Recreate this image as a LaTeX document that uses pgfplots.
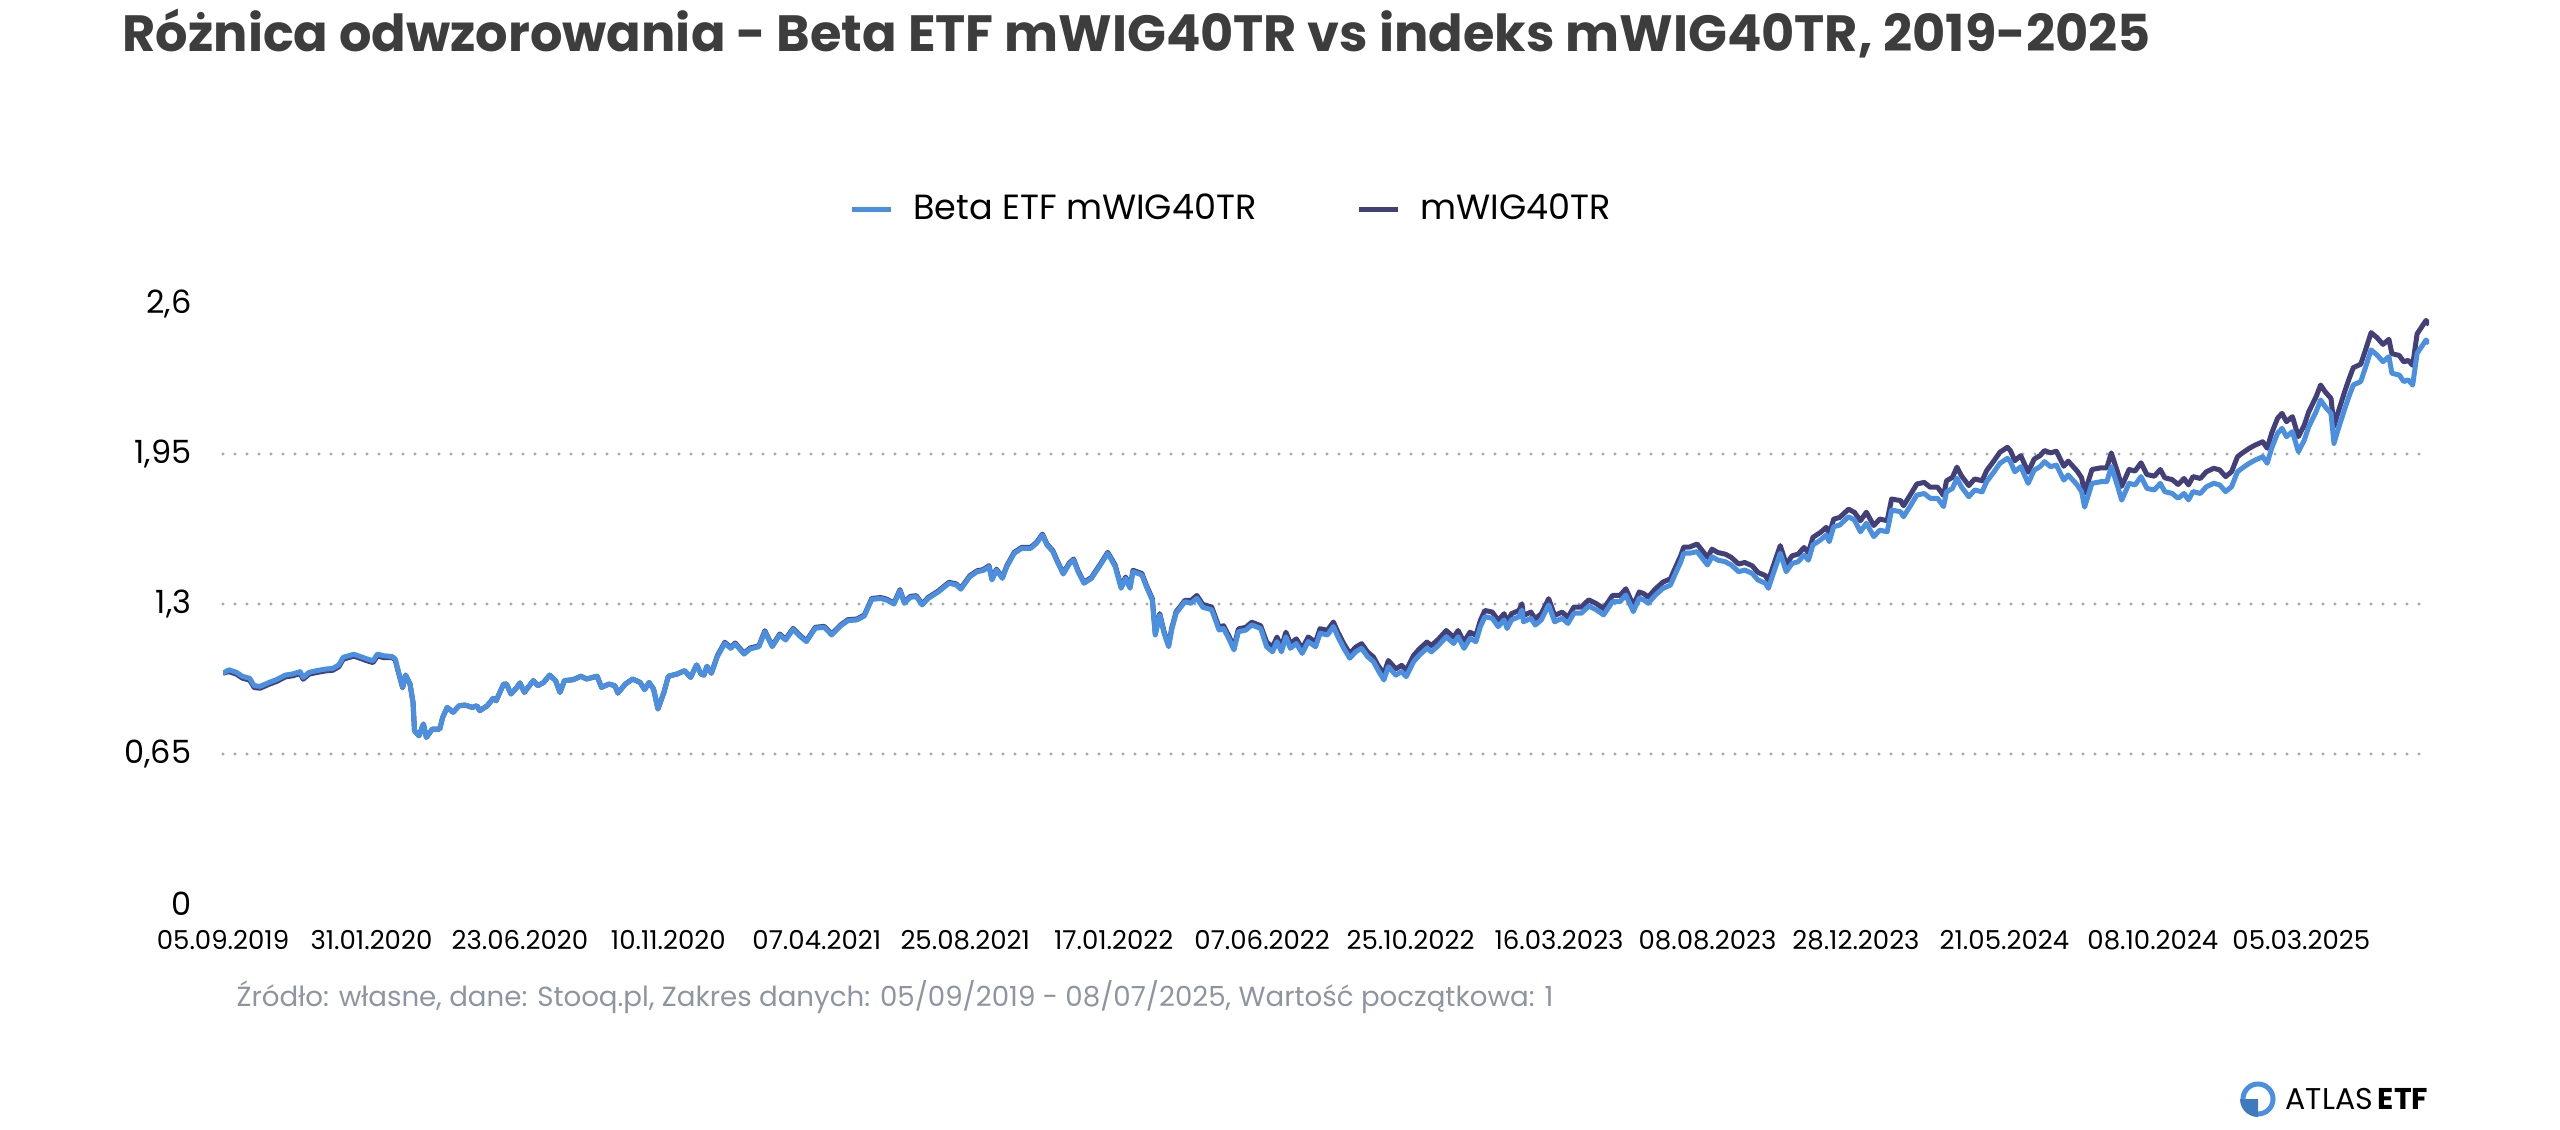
\documentclass[border=0pt]{standalone}
\usepackage{fontspec}
\setmainfont{Poppins}
\usepackage{pgfplots}
\pgfplotsset{compat=1.18}
\usepackage{pgfplotstable}

\definecolor{etfblue}{HTML}{4A8FE0}
\definecolor{wigdark}{HTML}{434078}
\definecolor{titlegray}{HTML}{3D3D3D}
\definecolor{srcgray}{HTML}{8D95A0}
\definecolor{gridgray}{HTML}{A6A6B2}

% d = trading day since 05.09.2019, etf = Beta ETF mWIG40TR, wig = mWIG40TR (start value 1)
\pgfplotstableread{
d etf wig
0 1.000 1.000
4 1.015 1.007
9 1.004 0.996
13 0.987 0.979
18 0.978 0.970
21 0.946 0.938
25 0.943 0.935
31 0.960 0.952
36 0.972 0.964
42 0.992 0.984
47 0.997 0.989
52 1.007 0.999
54 0.982 0.974
58 1.004 0.996
63 1.011 1.003
69 1.018 1.010
74 1.021 1.013
78 1.036 1.028
81 1.069 1.061
88 1.082 1.074
91 1.076 1.068
97 1.062 1.054
101 1.054 1.046
104 1.083 1.075
108 1.076 1.068
114 1.072 1.067
116 1.062 1.058
118 1.011 1.008
121 0.939 0.937
123 0.992 0.992
126 0.953 0.953
128 0.874 0.874
129 0.751 0.751
132 0.729 0.729
135 0.780 0.780
137 0.722 0.722
141 0.758 0.758
146 0.758 0.758
148 0.809 0.809
151 0.852 0.852
155 0.831 0.831
159 0.859 0.859
163 0.862 0.862
168 0.852 0.852
171 0.859 0.859
173 0.838 0.838
178 0.859 0.859
182 0.891 0.891
184 0.881 0.881
189 0.953 0.953
191 0.953 0.953
194 0.910 0.910
198 0.939 0.939
200 0.958 0.958
203 0.917 0.917
209 0.968 0.968
212 0.946 0.946
216 0.960 0.960
220 0.992 0.992
224 0.968 0.968
227 0.917 0.917
230 0.968 0.968
236 0.972 0.972
241 0.987 0.987
245 0.975 0.975
252 0.987 0.987
255 0.939 0.939
260 0.953 0.953
264 0.946 0.946
266 0.914 0.914
271 0.953 0.953
276 0.975 0.975
281 0.960 0.960
284 0.929 0.929
287 0.960 0.960
290 0.932 0.932
293 0.845 0.845
297 0.917 0.917
300 0.987 0.987
306 0.997 0.997
311 1.011 1.011
315 0.982 0.982
319 1.036 1.036
322 0.997 0.997
324 0.992 0.992
326 1.030 1.030
329 1.000 1.000
333 1.072 1.076
338 1.130 1.134
342 1.108 1.112
345 1.127 1.131
351 1.083 1.087
355 1.105 1.109
361 1.115 1.119
365 1.180 1.184
370 1.115 1.119
375 1.166 1.170
379 1.144 1.148
384 1.190 1.194
389 1.158 1.162
393 1.137 1.141
399 1.195 1.199
405 1.199 1.203
410 1.166 1.170
416 1.205 1.209
421 1.228 1.232
427 1.231 1.235
432 1.248 1.252
437 1.320 1.324
443 1.324 1.328
447 1.317 1.321
452 1.300 1.304
456 1.358 1.362
459 1.303 1.307
463 1.329 1.333
467 1.332 1.336
471 1.296 1.300
475 1.324 1.328
482 1.353 1.357
489 1.390 1.394
494 1.383 1.387
497 1.364 1.368
503 1.418 1.422
508 1.440 1.444
512 1.445 1.449
516 1.462 1.466
518 1.404 1.408
521 1.447 1.451
525 1.411 1.415
528 1.462 1.466
533 1.520 1.524
538 1.541 1.545
544 1.541 1.545
548 1.563 1.567
552 1.599 1.603
555 1.556 1.560
559 1.527 1.531
562 1.483 1.487
566 1.430 1.434
570 1.473 1.477
573 1.491 1.495
576 1.440 1.444
580 1.390 1.394
585 1.411 1.415
591 1.469 1.473
596 1.520 1.524
601 1.462 1.468
605 1.368 1.374
608 1.411 1.417
611 1.368 1.374
613 1.440 1.446
619 1.426 1.432
622 1.375 1.381
626 1.317 1.323
628 1.166 1.172
631 1.252 1.258
634 1.172 1.178
637 1.115 1.121
639 1.187 1.193
642 1.260 1.266
648 1.310 1.316
652 1.303 1.315
656 1.325 1.337
660 1.286 1.298
666 1.275 1.287
671 1.187 1.199
674 1.194 1.206
678 1.144 1.156
681 1.101 1.113
684 1.180 1.192
689 1.187 1.199
693 1.209 1.221
699 1.194 1.206
703 1.115 1.135
707 1.093 1.113
710 1.137 1.157
713 1.093 1.113
716 1.158 1.178
719 1.108 1.128
723 1.129 1.149
727 1.086 1.106
731 1.137 1.157
736 1.115 1.135
739 1.173 1.193
744 1.166 1.186
748 1.202 1.222
751 1.158 1.178
755 1.108 1.128
759 1.065 1.085
763 1.093 1.113
767 1.108 1.128
771 1.072 1.092
775 1.050 1.070
778 1.014 1.034
782 0.971 0.998
785 1.028 1.055
790 0.992 1.019
794 1.007 1.034
797 0.985 1.012
802 1.050 1.077
806 1.079 1.106
811 1.108 1.135
814 1.093 1.120
819 1.122 1.149
824 1.158 1.185
829 1.129 1.156
832 1.158 1.185
836 1.108 1.135
840 1.151 1.178
844 1.137 1.164
847 1.202 1.229
850 1.245 1.272
855 1.238 1.265
859 1.202 1.229
863 1.231 1.258
865 1.194 1.221
868 1.231 1.258
873 1.245 1.272
875 1.274 1.301
876 1.223 1.250
881 1.238 1.265
884 1.209 1.236
888 1.231 1.258
893 1.296 1.323
897 1.223 1.250
902 1.238 1.265
906 1.216 1.243
910 1.260 1.287
915 1.260 1.287
920 1.291 1.318
925 1.275 1.302
930 1.253 1.280
936 1.310 1.337
941 1.310 1.337
945 1.339 1.366
950 1.267 1.294
954 1.325 1.352
957 1.318 1.345
960 1.303 1.330
965 1.339 1.366
970 1.368 1.395
975 1.382 1.409
978 1.426 1.453
982 1.483 1.510
984 1.520 1.547
988 1.520 1.547
993 1.527 1.560
996 1.502 1.535
1000 1.469 1.502
1003 1.505 1.538
1007 1.490 1.523
1012 1.483 1.516
1016 1.469 1.502
1021 1.440 1.473
1025 1.447 1.480
1030 1.433 1.466
1034 1.404 1.437
1039 1.390 1.423
1041 1.368 1.401
1044 1.426 1.459
1049 1.520 1.553
1053 1.440 1.473
1057 1.476 1.509
1061 1.483 1.516
1065 1.512 1.545
1068 1.490 1.523
1071 1.556 1.589
1076 1.577 1.610
1080 1.599 1.632
1082 1.570 1.603
1085 1.635 1.668
1089 1.642 1.675
1095 1.678 1.711
1099 1.664 1.697
1103 1.613 1.661
1107 1.650 1.698
1112 1.592 1.640
1116 1.620 1.668
1121 1.613 1.661
1124 1.707 1.755
1130 1.700 1.748
1132 1.678 1.726
1137 1.729 1.777
1141 1.772 1.820
1146 1.779 1.827
1150 1.758 1.806
1155 1.758 1.806
1159 1.722 1.770
1161 1.786 1.834
1165 1.801 1.849
1168 1.845 1.893
1171 1.808 1.856
1176 1.765 1.813
1180 1.794 1.842
1185 1.786 1.834
1188 1.830 1.878
1193 1.873 1.921
1197 1.910 1.958
1202 1.931 1.979
1204 1.917 1.965
1207 1.873 1.921
1211 1.895 1.943
1216 1.823 1.871
1220 1.880 1.928
1224 1.895 1.943
1227 1.917 1.965
1231 1.895 1.955
1235 1.902 1.962
1240 1.837 1.897
1243 1.859 1.919
1249 1.816 1.876
1252 1.787 1.847
1254 1.720 1.780
1259 1.823 1.883
1265 1.830 1.890
1269 1.830 1.890
1272 1.895 1.955
1276 1.816 1.876
1279 1.750 1.810
1284 1.823 1.883
1288 1.816 1.876
1292 1.852 1.912
1296 1.801 1.861
1301 1.794 1.854
1305 1.823 1.883
1308 1.787 1.847
1313 1.779 1.839
1317 1.758 1.818
1321 1.779 1.844
1324 1.751 1.816
1327 1.787 1.852
1332 1.779 1.844
1336 1.808 1.873
1341 1.823 1.888
1345 1.816 1.881
1349 1.787 1.852
1353 1.808 1.873
1357 1.873 1.938
1360 1.888 1.953
1365 1.910 1.975
1369 1.924 1.989
1374 1.938 2.003
1377 1.910 1.975
1380 1.975 2.040
1384 2.040 2.105
1387 2.061 2.126
1390 2.025 2.090
1394 2.047 2.112
1398 1.960 2.025
1402 2.010 2.075
1405 2.068 2.133
1410 2.134 2.199
1413 2.184 2.249
1416 2.155 2.220
1420 2.126 2.191
1422 1.996 2.071
1424 2.040 2.115
1429 2.141 2.216
1432 2.198 2.273
1435 2.249 2.324
1440 2.264 2.339
1443 2.321 2.396
1447 2.401 2.476
1451 2.379 2.454
1455 2.350 2.425
1459 2.372 2.447
1461 2.300 2.385
1466 2.292 2.377
1469 2.264 2.349
1472 2.271 2.356
1475 2.249 2.334
1478 2.386 2.471
1481 2.415 2.500
1484 2.444 2.529
1486 2.429 2.509
}\data

\begin{document}
\begin{tikzpicture}
% one unit = one pixel of the 2560x1129 reference
\begin{scope}[x=0.3pt,y=0.3pt]
\useasboundingbox (0,0) rectangle (2560,1129);
\node[anchor=base west, inner sep=0pt, text=titlegray,
      font=\fontsize{15.3}{18}\selectfont\bfseries]
  at (122,1077) {Różnica odwzorowania - Beta ETF mWIG40TR vs indeks mWIG40TR, 2019-2025};
\node[anchor=west, inner sep=0pt, text=srcgray, font=\fontsize{8.3}{10}\selectfont]
  at (236,132) {Źródło: własne, dane: Stooq.pl, Zakres danych: 05/09/2019 - 08/07/2025, Wartość początkowa: 1};
% logo
\draw[etfblue, line width=1.5pt] (2258,30) circle (15);
\fill[etfblue!85!black] (2258,30) -- (2240,30) arc (180:270:18) -- cycle;
\node[anchor=west, inner sep=0pt, text=black, font=\fontsize{9}{10}\selectfont]
  at (2285,30) {ATLAS\hspace{1.5pt}\textbf{ETF}};
\end{scope}

\begin{axis}[
  at={(66.9pt,67.5pt)}, anchor=south west,
  scale only axis, width=661.8pt, height=180pt,
  xmin=0, xmax=1486, ymin=0, ymax=2.6,
  axis line style={draw=none},
  major tick length=0pt,
  xtick={0,100,...,1400},
  xticklabels={05.09.2019,31.01.2020,23.06.2020,10.11.2020,07.04.2021,25.08.2021,17.01.2022,07.06.2022,25.10.2022,16.03.2023,08.08.2023,28.12.2023,21.05.2024,08.10.2024,05.03.2025},
  xticklabel style={font=\fontsize{7.8}{9}\selectfont, anchor=base, yshift=-13.5pt, inner sep=0pt},
  ytick={0,0.65,1.3,1.95,2.6},
  yticklabels={0,{0,65},{1,3},{1,95},{2,6}},
  yticklabel style={font=\fontsize{9.6}{11}\selectfont, anchor=east, inner sep=0pt, xshift=-9.3pt},
  extra y ticks={0.65,1.3,1.95},
  extra y tick labels={},
  extra y tick style={grid=major,
    major grid style={gridgray, line width=1pt, line cap=round, dash pattern=on 0pt off 3.6pt}},
  /pgf/number format/assume math mode=true,
  legend columns=2,
  reverse legend,
  legend style={draw=none, fill=none, at={(0.458,1.158)}, anchor=center,
    font=\fontsize{10.5}{12}\selectfont,
    /tikz/every odd column/.append style={column sep=4pt},
    /tikz/every even column/.append style={column sep=28pt}},
  legend cell align=left,
  legend image code/.code={\draw[#1, line width=1.6pt] (0pt,0pt) -- (11.7pt,0pt);},
]
\addplot[wigdark, line width=1.5pt, line join=round] table[x=d, y=wig] {\data};
\addlegendentry{mWIG40TR}
\addplot[etfblue, line width=1.5pt, line join=round] table[x=d, y=etf] {\data};
\addlegendentry{Beta ETF mWIG40TR}
\end{axis}
\end{tikzpicture}
\end{document}
